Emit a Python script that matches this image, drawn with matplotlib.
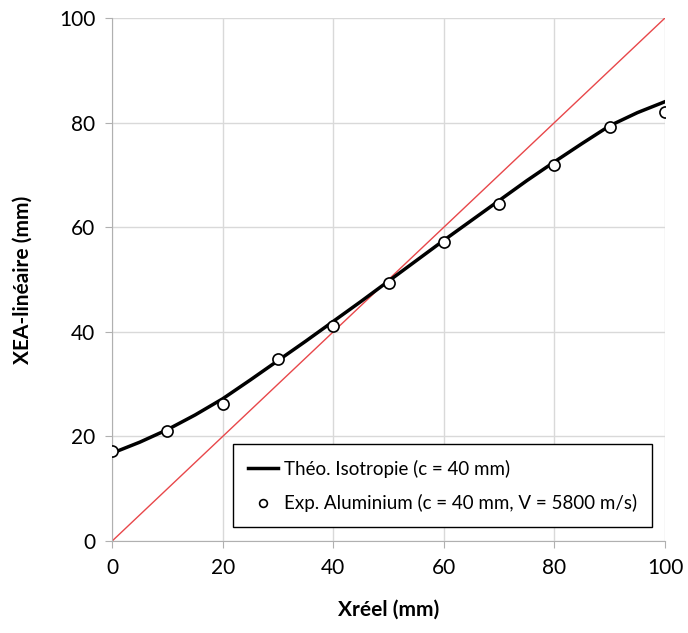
import matplotlib
matplotlib.use('Agg')
import matplotlib.pyplot as plt

plt.rcParams['font.family'] = ['Lato', 'DejaVu Sans']

# theory curve
x_theo = [0, 5, 10, 15, 20, 25, 30, 35, 40, 45, 50,
          55, 60, 65, 70, 75, 80, 85, 90, 95, 100]
y_theo = [16.8, 18.9, 21.3, 24.1, 27.2, 30.8, 34.5, 38.2, 42.0, 45.8, 49.7,
          53.6, 57.5, 61.3, 65.1, 68.9, 72.5, 76.0, 79.4, 81.9, 84.0]

# experimental points
x_exp = [0, 10, 20, 30, 40, 50, 60, 70, 80, 90, 100]
y_exp = [17.2, 21.1, 26.2, 34.8, 41.2, 49.4, 57.2, 64.4, 71.8, 79.2, 82.1]

diag = [0, 100]

fig = plt.figure(figsize=(6.88, 6.33), dpi=100)
ax = fig.add_axes([0.163, 0.1453, 0.8036, 0.8263])

ax.plot(diag, diag, color='#e8474a', lw=1.0, zorder=2)
ax.plot(x_theo, y_theo, color='black', lw=2.5, zorder=3,
        label='Théo. Isotropie (c = 40 mm)')
ax.plot(x_exp, y_exp, ls='none', marker='o', ms=8, mfc='white', mec='black',
        mew=1.2, zorder=4, label='Exp. Aluminium (c = 40 mm, V = 5800 m/s)')

ax.set_xlim(0, 100)
ax.set_ylim(0, 100)
ax.set_xticks(range(0, 101, 20))
ax.set_yticks(range(0, 101, 20))
ax.grid(True, color='#d9d9d9', lw=1.0)
ax.set_axisbelow(True)
for s in ['top', 'right']:
    ax.spines[s].set_visible(False)
for s in ['left', 'bottom']:
    ax.spines[s].set_color('#b0b0b0')
ax.tick_params(labelsize=15, color='#b0b0b0', length=5, pad=7)

ax.set_xlabel('Xréel (mm)', fontsize=15, fontweight='bold', labelpad=16)
ax.set_ylabel('XEA-linéaire (mm)', fontsize=15, fontweight='bold', labelpad=19)

leg = ax.legend(loc='lower right', bbox_to_anchor=(0.993, 0.008),
                fontsize=13.5, handlelength=1.6, handletextpad=0.3,
                labelspacing=0.9, borderpad=0.8, fancybox=False,
                framealpha=1, markerscale=0.7)
leg.get_frame().set_edgecolor('black')
leg.get_frame().set_linewidth(1.0)

fig.savefig('out.png', dpi=100)
